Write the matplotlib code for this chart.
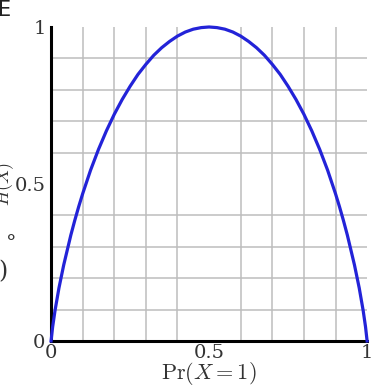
import matplotlib
matplotlib.use("Agg")
import matplotlib.pyplot as plt

# Binary entropy curve
p_values = [0.0, 0.005, 0.0125, 0.025, 0.04, 0.0625, 0.075, 0.0875, 0.1, 0.125,
            0.15, 0.175, 0.2, 0.225, 0.25, 0.275, 0.3, 0.325, 0.35, 0.375, 0.4,
            0.425, 0.45, 0.475, 0.5, 0.525, 0.55, 0.575, 0.6, 0.625, 0.65, 0.675,
            0.7, 0.725, 0.75, 0.775, 0.8, 0.825, 0.85, 0.875, 0.9, 0.9125, 0.925,
            0.9375, 0.96, 0.975, 0.9875, 0.995, 1.0]
h_values = [0.0, 0.045, 0.097, 0.169, 0.242, 0.337, 0.384, 0.428, 0.469, 0.544,
            0.610, 0.669, 0.722, 0.769, 0.811, 0.849, 0.881, 0.910, 0.934, 0.954,
            0.971, 0.984, 0.993, 0.998, 1.0, 0.998, 0.993, 0.984, 0.971, 0.954,
            0.934, 0.910, 0.881, 0.849, 0.811, 0.769, 0.722, 0.669, 0.610, 0.544,
            0.469, 0.428, 0.384, 0.337, 0.242, 0.169, 0.097, 0.045, 0.0]

tick_values = [0, 0.5, 1]
tick_labels = ["0", "0.5", "1"]

plt.rcParams["font.family"] = ["DejaVu Serif"]
plt.rcParams["mathtext.fontset"] = "cm"

fig = plt.figure(figsize=(3.84, 3.91), dpi=100)
ax = fig.add_axes([0.133, 0.128, 0.823, 0.803])

ax.plot(p_values, h_values, color="#2323d8", linewidth=2.3, zorder=3,
        clip_on=False, solid_joinstyle="round")

ax.set_xlim(0, 1)
ax.set_ylim(0, 1)

# 10x10 grid
ax.set_xticks([i / 10 for i in range(11)], minor=True)
ax.set_yticks([i / 10 for i in range(11)], minor=True)
ax.grid(True, which="minor", color="#bdbdbd", linewidth=1.1)
ax.set_xticks(tick_values)
ax.set_xticklabels(tick_labels)
ax.set_yticks(tick_values)
ax.set_yticklabels(tick_labels)
ax.tick_params(which="both", length=0, labelsize=14, colors="#333333")
ax.tick_params(axis="x", pad=2)
ax.tick_params(axis="y", pad=4)

for side in ["top", "right"]:
    ax.spines[side].set_visible(False)
for side in ["left", "bottom"]:
    ax.spines[side].set_linewidth(2.2)
    ax.spines[side].set_color("black")
ax.set_axisbelow(True)

ax.set_xlabel(r"$\mathrm{Pr}(X = 1)$", fontsize=16, labelpad=-1, color="#333333")
ax.set_ylabel(r"$H(X)$", fontsize=13, color="#333333")
ax.yaxis.set_label_coords(-0.112, 0.5)

# fragments of the surrounding slide
fig.text(-0.005, 0.975, "E", fontsize=15, color="#222222", ha="left", va="center",
         family="DejaVu Sans")
fig.text(0.015, 0.378, "°", fontsize=15, color="#333333", ha="left", va="center")
fig.text(-0.005, 0.305, ")", fontsize=17, color="#333333", ha="left", va="center")

plt.savefig("out.png", dpi=100)
